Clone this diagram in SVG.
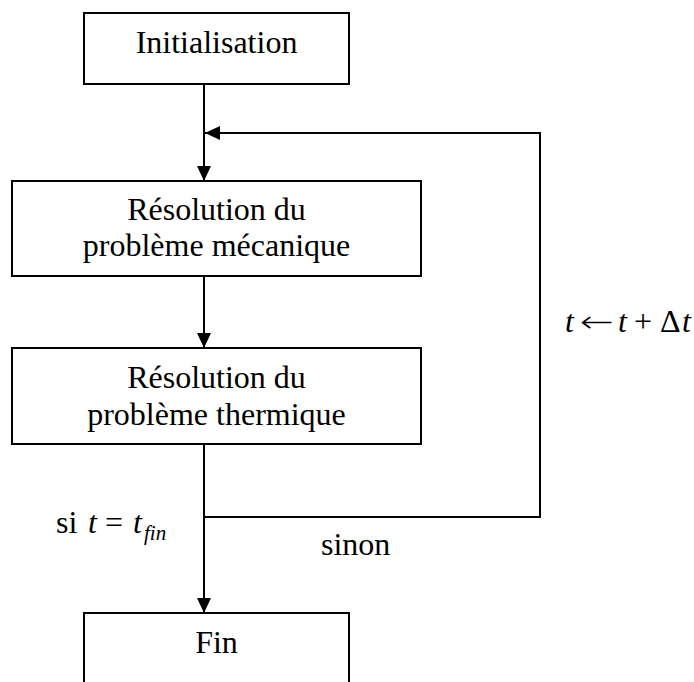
<svg xmlns="http://www.w3.org/2000/svg" width="694" height="682" viewBox="0 0 694 682">
<style>
.box{fill:#fff;stroke:#000;stroke-width:2}
.lbl{font-family:"Liberation Serif","Times New Roman",serif;font-size:32px;fill:#000}
.it{font-style:italic}
.con{fill:none;stroke:#000;stroke-width:2}
</style>
<defs>
<marker id="ah" viewBox="0 0 15 14" refX="15" refY="7" markerWidth="15" markerHeight="14" markerUnits="userSpaceOnUse" orient="auto">
<path d="M0,0 L15,7 L0,14 z" fill="#000"/>
</marker>
</defs>
<rect width="694" height="682" fill="#fff"/>
<g id="connectors">
<line class="con" x1="204" y1="84" x2="204" y2="181" marker-end="url(#ah)"/>
<path class="con" d="M204,517 H540 V133 H205" marker-end="url(#ah)"/>
<line class="con" x1="204" y1="276" x2="204" y2="348" marker-end="url(#ah)"/>
<line class="con" x1="204" y1="444" x2="204" y2="613" marker-end="url(#ah)"/>
</g>
<g id="init">
<rect class="box" x="84" y="13" width="265" height="71"/>
<text class="lbl" x="216.5" y="53" text-anchor="middle">Initialisation</text>
</g>
<g id="meca">
<rect class="box" x="12" y="181" width="409" height="95"/>
<text class="lbl" x="216.5" y="220" text-anchor="middle">Résolution du</text>
<text class="lbl" x="216.5" y="256" text-anchor="middle">problème mécanique</text>
</g>
<g id="therm">
<rect class="box" x="12" y="348" width="409" height="96"/>
<text class="lbl" x="216.5" y="388" text-anchor="middle">Résolution du</text>
<text class="lbl" x="216.5" y="425" text-anchor="middle">problème thermique</text>
</g>
<g id="fin">
<rect class="box" x="84" y="613" width="265" height="100"/>
<text class="lbl" x="216.5" y="653" text-anchor="middle">Fin</text>
</g>
<g id="labels">
<text class="lbl it" x="565" y="332">t</text>
<text x="580" y="332" textLength="34" lengthAdjust="spacingAndGlyphs" style="font-family:'DejaVu Sans',sans-serif;font-weight:200;font-size:30px;fill:#000">←</text>
<text class="lbl it" x="618" y="332">t</text>
<text class="lbl" x="634" y="332">+</text>
<text class="lbl" x="660" y="332">Δ</text>
<text class="lbl it" x="682" y="332">t</text>
<text class="lbl" x="56" y="533">si</text>
<text class="lbl it" x="88" y="533">t</text>
<text class="lbl" x="105" y="533">=</text>
<text class="lbl it" x="133" y="533">t</text>
<text class="lbl it" x="144" y="540" style="font-size:21px">fin</text>
<text class="lbl" x="321" y="555">sinon</text>
</g>
</svg>
